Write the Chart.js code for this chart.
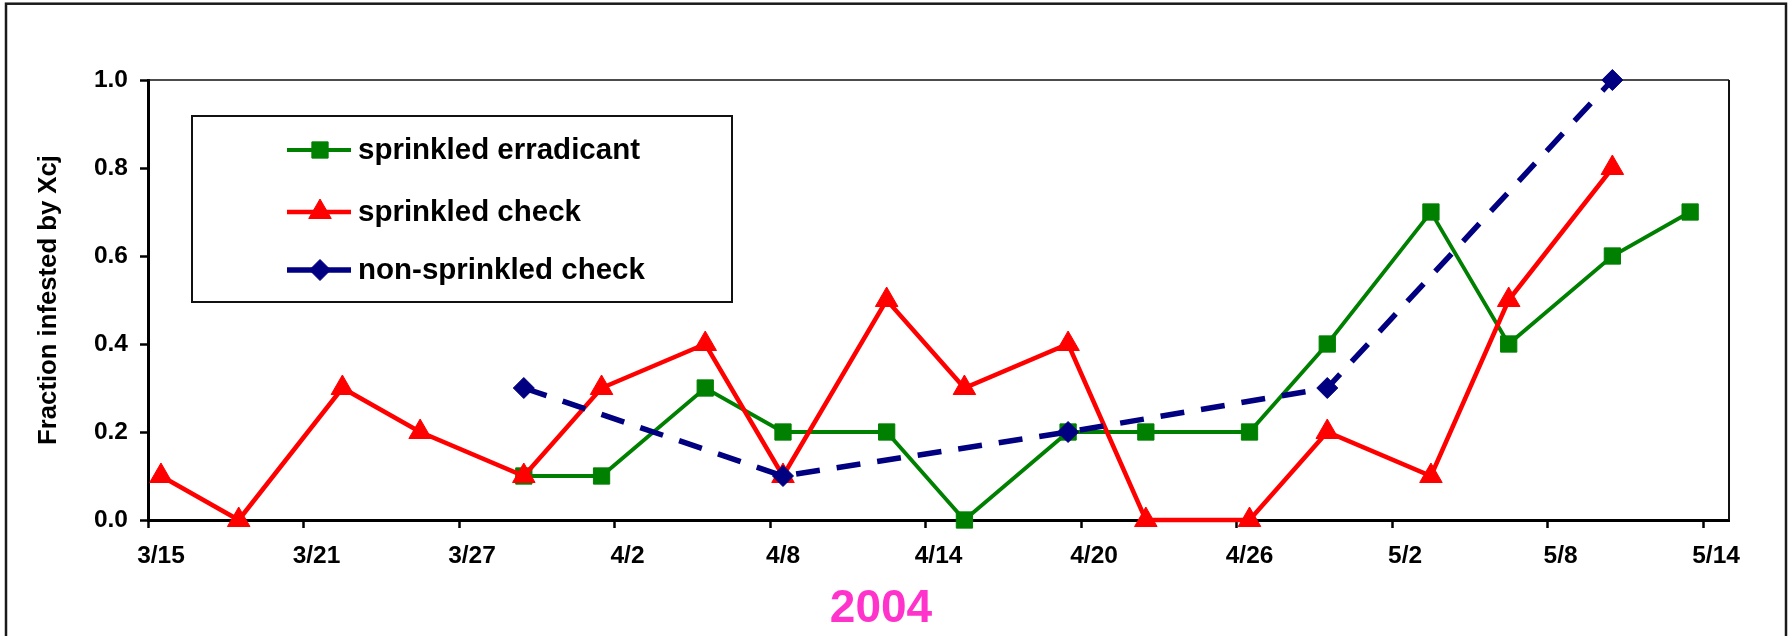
<!DOCTYPE html>
<html>
<head>
<meta charset="utf-8">
<script src="https://cdn.jsdelivr.net/npm/chart.js@4/dist/chart.umd.min.js"></script>
<style>
  html, body { margin: 0; padding: 0; background: #fff; }
  #wrap { width: 1791px; height: 636px; position: relative; }
  canvas { display: block; }
</style>
</head>
<body>
<div id="wrap"><canvas id="c" width="1791" height="636"></canvas></div>
<script>
// ---- data ----
const tickLabels = ['3/15','3/21','3/27','4/2','4/8','4/14','4/20','4/26','5/2','5/8','5/14'];
const yTickValues = [0, 0.2, 0.4, 0.6, 0.8, 1.0];

const erradicantDates  = ['3/29','4/1','4/5','4/8','4/12','4/15','4/19','4/22','4/26','4/29','5/3','5/6','5/10','5/13'];
const erradicantValues = [0.1, 0.1, 0.3, 0.2, 0.2, 0.0, 0.2, 0.2, 0.2, 0.4, 0.7, 0.4, 0.6, 0.7];

const checkDates  = ['3/15','3/18','3/22','3/25','3/29','4/1','4/5','4/8','4/12','4/15','4/19','4/22','4/26','4/29','5/3','5/6','5/10'];
const checkValues = [0.1, 0.0, 0.3, 0.2, 0.1, 0.3, 0.4, 0.1, 0.5, 0.3, 0.4, 0.0, 0.0, 0.2, 0.1, 0.5, 0.8];

const nonSprinkledDates  = ['3/29','4/8','4/19','4/29','5/10'];
const nonSprinkledValues = [0.3, 0.1, 0.2, 0.3, 1.0];

const seriesNames = ['sprinkled erradicant', 'sprinkled check', 'non-sprinkled check'];
const yTitle = 'Fraction infested by Xcj';
const xTitle = '2004';

// ---- helpers ----
const FONT = '"Liberation Sans", Arial, Helvetica, sans-serif';
const monthStart = {3: 0, 4: 31, 5: 61};           // days from 3/1 (2004)
function dayOf(s) {                                  // days since 3/15
  const [m, d] = s.split('/').map(Number);
  return monthStart[m] + d - 15;
}
// Excel date axis "between tick marks": each date sits in the middle of its day slot
function toPoints(dates, values) {
  return dates.map((d, i) => ({ x: dayOf(d) + 0.5, y: values[i] }));
}
const axisMin = dayOf('3/15');
const axisMax = dayOf('5/14') + 1;

const GREEN = '#008000', RED = '#FF0000', NAVY = '#000080';

const decorPlugin = {
  id: 'decor',
  beforeDraw(chart) {
    const ctx = chart.ctx;
    ctx.save();
    ctx.fillStyle = '#fff';
    ctx.fillRect(0, 0, chart.width, chart.height);
    ctx.strokeStyle = '#1a1a1a';
    ctx.lineWidth = 2.5;
    ctx.strokeRect(6, 3.7, 1780, 700);
    ctx.restore();
  },
  beforeDatasetsDraw(chart) {
    const a = chart.chartArea, ctx = chart.ctx;
    ctx.save();
    ctx.strokeStyle = '#111';
    ctx.lineWidth = 1.6;
    ctx.beginPath();
    ctx.moveTo(a.left, a.top);
    ctx.lineTo(a.right, a.top);
    ctx.stroke();
    ctx.lineWidth = 2;
    ctx.beginPath();
    ctx.moveTo(a.right, a.top);
    ctx.lineTo(a.right, a.bottom);
    ctx.stroke();
    ctx.restore();
  },
  afterDraw(chart) {
    const ctx = chart.ctx;
    ctx.save();
    // legend box
    const L = { x: 192, y: 116, w: 540, h: 186 };
    ctx.fillStyle = '#fff';
    ctx.fillRect(L.x, L.y, L.w, L.h);
    ctx.strokeStyle = '#111';
    ctx.lineWidth = 2;
    ctx.strokeRect(L.x, L.y, L.w, L.h);
    const rowY = [150, 212, 270];
    chart.data.datasets.forEach((ds, i) => {
      const y = rowY[i];
      ctx.strokeStyle = ds.borderColor;
      ctx.lineWidth = ds.borderWidth;
      ctx.setLineDash([]);
      ctx.beginPath();
      ctx.moveTo(287, y);
      ctx.lineTo(351, y);
      ctx.stroke();
      ctx.fillStyle = ds.pointBackgroundColor;
      ctx.strokeStyle = ds.pointBorderColor;
      ctx.lineWidth = ds.pointBorderWidth;
      Chart.helpers.drawPoint(ctx, {
        pointStyle: ds.pointStyle, radius: ds.pointRadius, rotation: 0,
        borderWidth: ds.pointBorderWidth
      }, 320, y);
      ctx.fillStyle = '#000';
      ctx.font = 'bold 29.5px ' + FONT;
      ctx.textAlign = 'left';
      ctx.textBaseline = 'alphabetic';
      ctx.fillText(ds.label, 358, y + 8.5);
    });
    // x axis title "2004"
    ctx.fillStyle = '#FF33CC';
    ctx.font = 'bold 46px ' + FONT;
    ctx.textAlign = 'center';
    ctx.textBaseline = 'alphabetic';
    ctx.fillText(xTitle, 881, 622);
    ctx.restore();
  }
};

const tickFont = { family: FONT, size: 24.5, weight: 'bold' };

new Chart(document.getElementById('c'), {
  type: 'line',
  data: {
    datasets: [
      {
        label: seriesNames[0],
        data: toPoints(erradicantDates, erradicantValues),
        borderColor: GREEN, backgroundColor: GREEN,
        borderWidth: 3.8,
        pointStyle: 'rect', pointRadius: 11.5, pointBorderWidth: 1,
        pointBackgroundColor: GREEN, pointBorderColor: GREEN,
        order: 3, clip: false, tension: 0, fill: false
      },
      {
        label: seriesNames[1],
        data: toPoints(checkDates, checkValues),
        borderColor: RED, backgroundColor: RED,
        borderWidth: 4.5,
        pointStyle: 'triangle', pointRadius: 13, pointBorderWidth: 1,
        pointBackgroundColor: RED, pointBorderColor: RED,
        order: 2, clip: false, tension: 0, fill: false
      },
      {
        label: seriesNames[2],
        data: toPoints(nonSprinkledDates, nonSprinkledValues),
        borderColor: NAVY, backgroundColor: NAVY,
        borderWidth: 5.5, borderDash: [24, 17],
        pointStyle: 'rectRot', pointRadius: 10.5, pointBorderWidth: 1,
        pointBackgroundColor: NAVY, pointBorderColor: NAVY,
        order: 1, clip: false, tension: 0, fill: false
      }
    ]
  },
  options: {
    responsive: false,
    devicePixelRatio: 1,
    animation: false,
    events: [],
    layout: { padding: { left: 0, top: 80, right: 62, bottom: 0 } },
    plugins: { legend: { display: false }, tooltip: { enabled: false } },
    scales: {
      x: {
        type: 'linear',
        min: axisMin, max: axisMax,
        afterBuildTicks: s => { s.ticks = tickLabels.map(l => ({ value: dayOf(l) })); },
        afterFit: s => { s.height = 116; },
        ticks: {
          callback: (v, i) => tickLabels[i],
          font: tickFont, color: '#000',
          padding: 14, labelOffset: 13,
          maxRotation: 0, minRotation: 0, autoSkip: false
        },
        grid: { display: true, drawOnChartArea: false, drawTicks: true,
                tickLength: 8, tickColor: '#000', tickWidth: 2.5 },
        border: { display: true, color: '#000', width: 3 }
      },
      y: {
        min: 0, max: 1,
        afterBuildTicks: s => { s.ticks = yTickValues.map(v => ({ value: v })); },
        afterFit: s => { s.width = 148; },
        ticks: {
          callback: v => Number(v).toFixed(1),
          font: tickFont, color: '#000', padding: 12
        },
        grid: { display: true, drawOnChartArea: false, drawTicks: true,
                tickLength: 8, tickColor: '#000', tickWidth: 2.5 },
        border: { display: true, color: '#000', width: 3 },
        title: {
          display: true, text: yTitle, color: '#000',
          font: { family: FONT, size: 25.7, weight: 'bold' },
          padding: { top: 33, bottom: 0 }
        }
      }
    }
  },
  plugins: [decorPlugin]
});
</script>
</body>
</html>
